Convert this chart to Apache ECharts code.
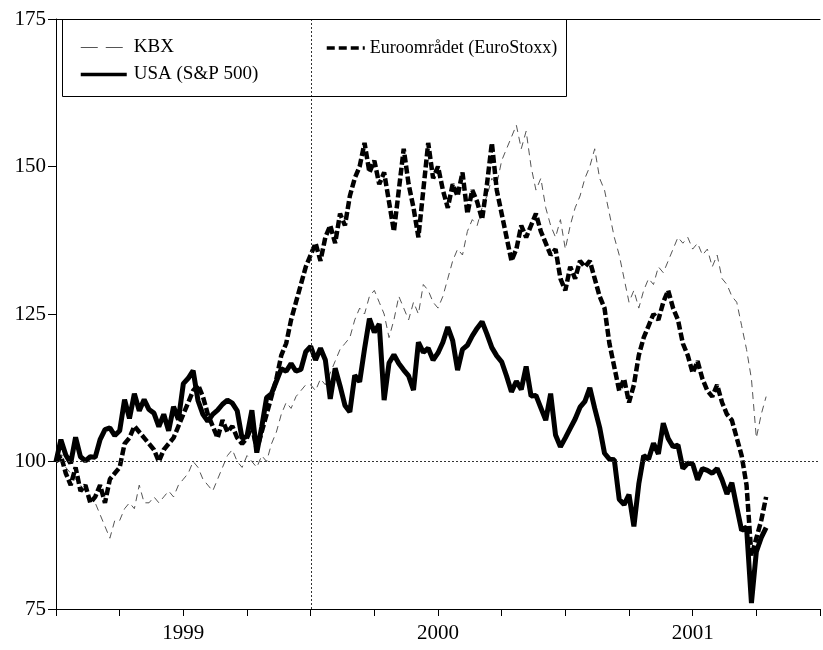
<!DOCTYPE html>
<html><head><meta charset="utf-8">
<script src="https://cdn.jsdelivr.net/npm/echarts@6/dist/echarts.min.js"></script>
<style>html,body{margin:0;padding:0;background:#fff}#c{width:823px;height:650px}</style>
</head><body><div id="c"></div>
<script>
// x axis: weeks since 1 Jan 1999; year labels sit mid-year
const yearLabels = {26: '1999', 78: '2000', 130: '2001'};
const seriesNames = ['KBX', 'Euroområdet (EuroStoxx)', 'USA (S&P 500)'];

// weekly index values (1 Jan 1999 = 100)
const kbx = [
 100, 100, 99, 98, 97, 96, 95, 94, 93, 91,
 89, 87, 90, 90, 92, 93, 92, 96, 93, 93,
 94, 93, 94, 95, 94, 96, 97, 98, 100, 99,
 97, 96, 95, 97, 99, 101, 102, 100, 99, 101,
 100, 99, 101, 100, 103, 105, 108, 110, 109, 111,
 112, 113, 113, 112, 114, 113, 115, 117, 119, 120,
 121, 124, 126, 125, 128, 129, 127, 125, 121, 124,
 128, 126, 124, 127, 125, 130, 129, 127, 126, 128,
 131, 134, 136, 135, 139, 141, 140, 143, 145, 148,
 147, 151, 153, 155, 157, 153, 156, 150, 146, 148,
 143, 140, 138, 141, 136, 140, 143, 145, 148, 150,
 153, 148, 146, 142, 138, 135, 131, 127, 129, 126,
 129, 131, 130, 133, 132, 134, 136, 138, 137, 138,
 136, 137, 135, 136, 133, 135, 131, 130, 128, 127,
 123, 119, 114, 104, 108, 111
];
const euro = [
 100, 101, 98, 96, 99, 95, 96, 93, 94, 96,
 93, 97, 98, 99, 103, 104, 106, 105, 104, 103,
 102, 100, 102, 103, 104, 106, 108, 110, 112, 113,
 111, 108, 106, 104, 107, 105, 106, 104, 103, 104,
 106, 102, 105, 108, 111, 114, 118, 120, 124, 127,
 130, 133, 135, 137, 134, 138, 140, 137, 142, 140,
 145, 148, 150, 154, 149, 151, 147, 149, 144, 139,
 146, 153, 147, 143, 138, 146, 154, 148, 150, 146,
 143, 147, 145, 149, 142, 146, 144, 141, 147, 154,
 146, 142, 138, 134, 136, 140, 138, 140, 142, 139,
 137, 135, 136, 131, 129, 133, 131, 134, 133, 134,
 131, 128, 126, 120, 116, 112, 114, 110, 113, 118,
 121, 123, 125, 124, 127, 129, 126, 124, 120, 118,
 115, 117, 114, 112, 111, 113, 110, 108, 107, 104,
 101, 96, 84, 87, 90, 94
];
const spx = [
 100, 103.7, 101.1, 99.7, 104.1, 100.8, 100.1, 100.8, 100.7, 103.7,
 105.4, 105.7, 104.4, 105.2, 110.5, 107.3, 111.5, 108.6, 110.5, 108.8,
 108.2, 105.9, 108.0, 105.2, 109.3, 107.1, 113.2, 114.1, 115.4, 110.3,
 108.0, 106.8, 108.0, 108.7, 109.7, 110.4, 109.9, 108.6, 103.9, 104.3,
 108.7, 101.5, 105.8, 110.8, 111.5, 113.6, 115.7, 115.3, 116.6, 115.3,
 115.6, 118.6, 119.5, 117.2, 119.2, 117.2, 110.6, 115.8, 112.8, 109.5,
 108.4, 114.6, 113.5, 119.1, 124.2, 121.9, 123.3, 110.4, 116.7, 118.1,
 116.6, 115.5, 114.5, 112.1, 120.2, 118.5, 119.2, 117.2, 118.4, 120.2,
 122.8, 120.5, 115.5, 119.0, 119.7, 121.3, 122.6, 123.7, 121.6, 119.3,
 117.9, 116.9, 114.5, 111.8, 113.6, 112.2, 116.1, 111.1, 111.2, 109.1,
 107.0, 111.5, 104.5, 102.5, 104.0, 105.6, 107.2, 109.2, 110.2, 112.5,
 109.0, 105.8, 101.4, 100.4, 100.3, 93.6, 92.7, 94.4, 89.0, 96.2,
 101.0, 100.4, 103.1, 101.3, 106.5, 103.9, 102.5, 102.8, 98.8, 99.7,
 99.6, 96.9, 98.8, 98.5, 98.0, 98.8, 96.9, 94.5, 96.4, 92.3,
 88.3, 88.9, 76.0, 84.7, 87.1, 88.8
];
const weeks = spx.map((_, i) => i);
const start2000 = 52.14;

const FONT = "'Liberation Serif','Times New Roman','DejaVu Serif',serif";
const pair = arr => arr.map((v, i) => [weeks[i], v]);

const chart = echarts.init(document.getElementById('c'), null, {renderer: 'canvas'});
chart.setOption({
  animation: false,
  backgroundColor: '#fff',
  grid: {left: 56, right: 0, top: 19, bottom: 41},
  xAxis: [{
    type: 'value', min: 0, max: 156, interval: 13,
    axisLine: {onZero: false, lineStyle: {color: '#000', width: 1}},
    axisTick: {show: true, length: 7, lineStyle: {color: '#000'}},
    splitLine: {show: false},
    axisLabel: {formatter: v => yearLabels[v] || '', color: '#000', fontFamily: FONT, fontSize: 21, margin: 14,
      showMinLabel: true, showMaxLabel: true}
  }, {
    type: 'value', position: 'top', min: 0, max: 156,
    axisLine: {show: true, onZero: false, lineStyle: {color: '#000', width: 1}},
    axisTick: {show: false}, axisLabel: {show: false}, splitLine: {show: false}
  }],
  yAxis: {
    type: 'value', min: 75, max: 175, interval: 25,
    axisLine: {show: true, onZero: false, lineStyle: {color: '#000', width: 1}},
    axisTick: {show: true, length: 8, lineStyle: {color: '#000'}},
    splitLine: {show: false},
    axisLabel: {color: '#000', fontFamily: FONT, fontSize: 21, margin: 10}
  },
  legend: [{
    orient: 'vertical', left: 74, top: 33, itemWidth: 46, itemHeight: 14, itemGap: 8,
    selectedMode: false,
    itemStyle: {opacity: 0},
    data: [{name: seriesNames[0], lineStyle: {width: 1, type: [17, 8]}}, {name: seriesNames[2], lineStyle: {width: 3.5}}],
    textStyle: {fontFamily: FONT, fontSize: 19, color: '#000', padding: [0, 0, 0, 2]}
  }, {
    orient: 'horizontal', left: 320, top: 34, itemWidth: 38, itemHeight: 14,
    selectedMode: false,
    itemStyle: {opacity: 0},
    data: [{name: seriesNames[1], lineStyle: {width: 3.5, type: [8, 4]}}],
    textStyle: {fontFamily: FONT, fontSize: 18, color: '#000'}
  }],
  graphic: [{
    type: 'rect', z: 100, silent: true,
    shape: {x: 62.5, y: 19.5, width: 504, height: 77},
    style: {fill: 'none', stroke: '#000', lineWidth: 1}
  }],
  series: [{
    name: seriesNames[0], type: 'line', data: pair(kbx), symbol: 'none', z: 2,
    itemStyle: {color: '#555'},
    lineStyle: {color: '#555', width: 1, type: [7, 5]},
    markLine: {
      silent: true, symbol: 'none', label: {show: false}, animation: false,
      lineStyle: {color: '#333', width: 1, type: [2, 2]},
      data: [{yAxis: 100}, {xAxis: start2000}]
    }
  }, {
    name: seriesNames[1], type: 'line', data: pair(euro), symbol: 'none', z: 3,
    itemStyle: {color: '#000'},
    lineStyle: {color: '#000', width: 4.5, type: [8, 3]}
  }, {
    name: seriesNames[2], type: 'line', data: pair(spx), symbol: 'none', z: 4,
    itemStyle: {color: '#000'},
    lineStyle: {color: '#000', width: 5}
  }]
});
</script>
</body></html>
